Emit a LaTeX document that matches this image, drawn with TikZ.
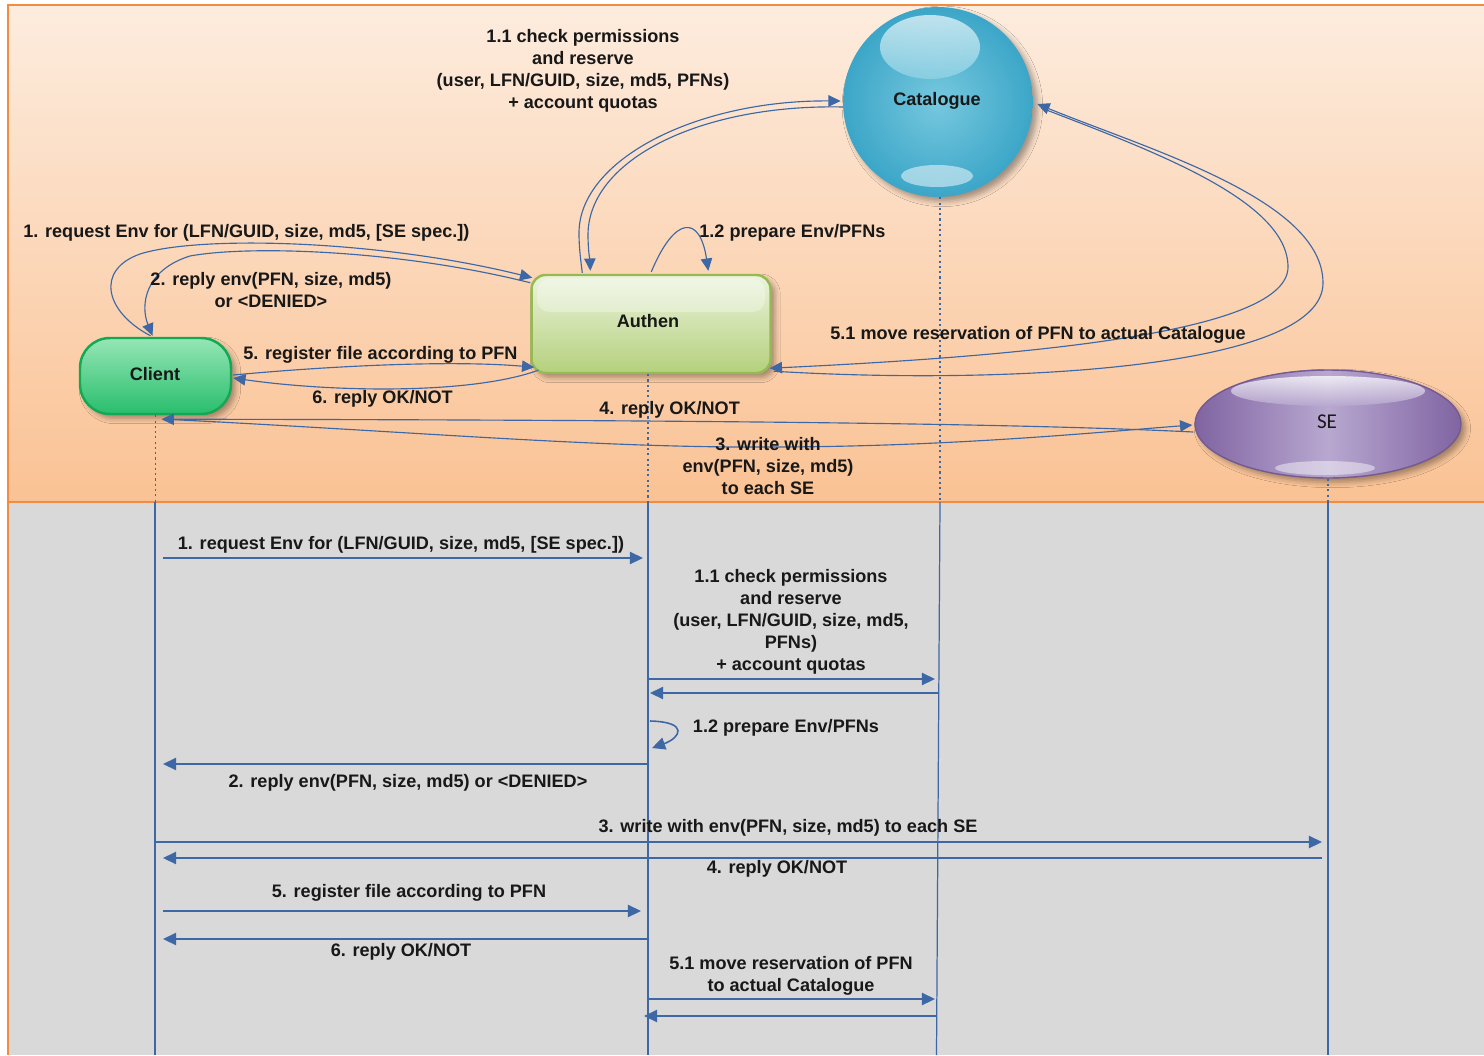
\documentclass[tikz,border=0pt]{standalone}
\usepackage{fontspec}
\setmainfont{Liberation Sans}
\newfontfamily\sefont{Carlito}
\usetikzlibrary{arrows.meta,shapes.geometric,shadows.blur,calc}

\definecolor{peachtop}{RGB}{253,236,222}
\definecolor{peachbot}{RGB}{250,194,148}
\definecolor{frameorange}{RGB}{242,140,64}
\definecolor{panelgray}{RGB}{217,217,217}
\definecolor{flow}{RGB}{62,104,165}
\definecolor{tealedge}{RGB}{60,166,200}
\definecolor{tealmid}{RGB}{118,200,222}
\definecolor{authtop}{RGB}{236,244,222}
\definecolor{authmid}{RGB}{194,219,146}
\definecolor{authbot}{RGB}{180,208,124}
\definecolor{authedge}{RGB}{150,186,82}
\definecolor{clienttop}{RGB}{150,230,182}
\definecolor{clientbot}{RGB}{40,190,108}
\definecolor{clientedge}{RGB}{18,168,84}
\definecolor{seedge}{RGB}{128,100,162}
\definecolor{semid}{RGB}{184,168,208}
\definecolor{ink}{RGB}{24,24,24}

\tikzset{
  lbl/.style={font=\bfseries\fontsize{10.3}{12.5}\selectfont, text=ink, inner sep=0pt, align=center},
  flowline/.style={draw=flow, line width=0.65pt},
  flowarrow/.style={flowline, -{Triangle[length=7pt,width=6.5pt]}},
  msgarrow/.style={draw=flow, line width=0.9pt, -{Triangle[length=7.5pt,width=7pt]}},
  lifedots/.style={draw=flow, line width=0.6pt, dash pattern=on 1.2pt off 1.8pt},
  lifeline/.style={draw=flow, line width=0.7pt},
  softshadow/.style={blur shadow={shadow xshift=2.5pt, shadow yshift=-2.5pt, shadow blur radius=3pt, shadow opacity=35}},
}

\begin{document}
\begin{tikzpicture}[x=0.02cm, y=-0.02cm]
\useasboundingbox (0,0) rectangle (1484,1055);

% panels
\fill[white] (0,0) rectangle (1484,1055);
\shade[top color=peachtop, bottom color=peachbot] (8,5) rectangle (1484,502);
\fill[panelgray] (8,502) rectangle (1484,1055);
\draw[frameorange, line width=1.2pt] (1484,5) -- (8,5) -- (8,1055);
\draw[frameorange, line width=1.2pt] (8,502) -- (1484,502);

% lifeline reference points
\coordinate (lC) at (155,502);
\coordinate (lA) at (648,502);
\coordinate (lK) at (940,502);
\coordinate (lS) at (1328,502);
\coordinate (bottom) at (0,1055);
\coordinate (lKend) at (936.5,1055);

% ---------- actors ----------
\node[circle, minimum size=3.8cm, inner sep=0pt, inner color=tealmid, outer color=tealedge, softshadow] (cat) at (938,102) {};
\shade[top color=white!85!tealmid, bottom color=tealmid!80, opacity=0.75] (930,47) ellipse [x radius=50, y radius=32];
\fill[white, opacity=0.5] (937,176) ellipse [x radius=36, y radius=11];
\node[lbl] (catlbl) at (937,101) {Catalogue};

\node[rectangle, rounded corners=8pt, minimum width=4.78cm, minimum height=1.96cm, draw=authedge, line width=1.4pt, top color=authtop, middle color=authmid, bottom color=authbot, softshadow] (auth) at (651,324) {};
\fill[white, opacity=0.3, rounded corners=7pt] (537,279) rectangle (765,312);
\node[lbl] (authlbl) at (648,321) {Authen};

\node[rectangle, rounded corners=17pt, minimum width=3.02cm, minimum height=1.52cm, draw=clientedge, line width=1.4pt, top color=clienttop, bottom color=clientbot, softshadow] (cli) at (155.5,376) {};
\node[lbl] (clilbl) at (155,374) {Client};

\node[ellipse, minimum width=5.32cm, minimum height=2.16cm, draw=seedge!90!black, line width=0.8pt, left color=seedge, right color=seedge, middle color=semid, softshadow] (se) at (1328,424) {};
\shade[top color=white, bottom color=semid, opacity=0.75] (1328,391) ellipse [x radius=97, y radius=15];
\fill[white, opacity=0.45] (1325,468) ellipse [x radius=50, y radius=7];
\node[font=\sefont\fontsize{12}{12}\selectfont, text=ink, inner sep=0pt] (selbl) at (1327,422) {SE};

% ---------- collaboration view ----------
\draw[lifedots] (cli.south) -- (cli.south |- lC);
\draw[lifedots] (lA |- auth.south) -- (lA);
\draw[lifedots] (lK |- cat.south) -- (lK);
\draw[lifedots] (lS |- se.south) -- (lS);

% 1 / 2 between Client and Authen
\draw[flowarrow] ($(cli.north)+(-5,-1)$) .. controls (105,312) and (95,270) .. (140,254)
   .. controls (200,235) and (380,240) .. ($(auth.north west)+(2,4)$);
\draw[flowarrow] ($(auth.north west)+(0,9)$) .. controls (400,250) and (250,245) .. (190,256)
   .. controls (145,270) and (140,305) .. ($(cli.north)+(-3,-1)$);

% 1.1 between Authen and Catalogue
\draw[flowarrow] ($(auth.north west)+(52,-1)$) .. controls (580,255) and (579,245) .. (579,233)
   .. controls (579,160) and (696,100) .. ($(cat.west)+(-2,-1)$);
\draw[flowarrow] (cat.183) .. controls (700,104) and (588,160) .. (588,235)
   .. controls (588,250) and (590,262) .. ($(auth.north west)+(60,-3)$);

% 1.2 self call
\draw[flowarrow] ($(auth.north west)+(121,-2)$) .. controls (675,215) and (700,215) .. ($(auth.north west)+(178,-3)$);

% 5 / 6 between Client and Authen
\draw[flowarrow] ($(cli.east)+(1,-1)$) .. controls (330,366) and (450,360) .. ($(auth.south west)+(4,-7)$);
\draw[flowarrow] ($(auth.south west)+(8,-4)$) .. controls (470,395) and (330,392) .. ($(cli.east)+(1,2)$);

% 5.1 between Authen and Catalogue
\draw[flowarrow] ($(auth.south east)+(2,-3)$) .. controls (1000,385) and (1323,370) .. (1323,283)
   .. controls (1323,200) and (1150,150) .. ($(cat.east)+(4,2)$);
\draw[flowarrow] ($(cat.east)+(8,6)$) .. controls (1150,150) and (1288,200) .. (1288,267)
   .. controls (1288,330) and (1050,355) .. ($(auth.south east)+(-2,-6)$);

% 3 / 4 between Client and SE
\draw[flowarrow] ($(se.west)+(-1,8)$) .. controls (1050,425) and (800,420) .. ($(cli.south)+(6,4)$);
\draw[flowarrow] ($(cli.south)+(10,4)$) .. controls (420,432) and (600,448) .. (768,447)
   .. controls (950,447) and (1100,432) .. ($(se.west)+(-2,1)$);

% labels of the collaboration view
\node[lbl] (tChk) at (583,71) {1.1 check permissions\\and reserve\\(user, LFN/GUID, size, md5, PFNs)\\+ account quotas};
\node[lbl, anchor=west] (tReq) at (23,233) {1. request Env for (LFN/GUID, size, md5, [SE spec.])};
\node[lbl, anchor=west] (tPrep) at (699,233) {1.2 prepare Env/PFNs};
\node[lbl] (tRep) at (271,290) {2. reply env(PFN, size, md5)\\or <DENIED>};
\node[lbl, anchor=west] (tReg) at (243,355) {5. register file according to PFN};
\node[lbl, anchor=west] (tOk) at (312,399) {6. reply OK/NOT};
\node[lbl, anchor=west] (tSeOk) at (599,410) {4. reply OK/NOT};
\node[lbl] (tWr) at (768,466) {3. write with\\env(PFN, size, md5)\\to each SE};
\node[lbl, anchor=west] (tMove) at (830,335) {5.1 move reservation of PFN to actual Catalogue};

% ---------- sequence view ----------
\draw[lifeline] (lC) -- (lC |- bottom);
\draw[lifeline] (lA) -- (lA |- bottom);
\draw[lifeline] (lK) -- (lKend);
\draw[lifeline] (lS) -- (lS |- bottom);

\coordinate (r1) at (0,558);
\coordinate (r11) at (0,679);
\coordinate (r11b) at (0,693);
\coordinate (r12) at (0,721);
\coordinate (r2) at (0,764);
\coordinate (r3) at (0,842);
\coordinate (r4) at (0,858);
\coordinate (r5) at (0,911);
\coordinate (r6) at (0,939);
\coordinate (r51) at (0,999);
\coordinate (r51b) at (0,1016);

\draw[msgarrow] ($(lC|-r1)+(8,0)$) -- ($(lA|-r1)+(-5,0)$);
\draw[msgarrow] (lA|-r11) -- ($(lK|-r11)+(-5,0)$);
\draw[msgarrow] ($(lK|-r11b)+(-1,0)$) -- ($(lA|-r11b)+(2,0)$);
\draw[msgarrow] ($(lA|-r12)+(2,0)$) .. controls (690,722) and (680,738) .. ($(lA|-r12)+(4,27)$);
\draw[msgarrow] (lA|-r2) -- ($(lC|-r2)+(8,0)$);
\draw[msgarrow] ($(lC|-r3)+(1,0)$) -- ($(lS|-r3)+(-6,0)$);
\draw[msgarrow] ($(lS|-r4)+(-6,0)$) -- ($(lC|-r4)+(8,0)$);
\draw[msgarrow] ($(lC|-r5)+(8,0)$) -- ($(lA|-r5)+(-7,0)$);
\draw[msgarrow] (lA|-r6) -- ($(lC|-r6)+(8,0)$);
\draw[msgarrow] (lA|-r51) -- ($(lK|-r51)+(-5,0)$);
\draw[msgarrow] ($(lK|-r51b)+(-3,0)$) -- ($(lA|-r51b)+(-4,0)$);

\node[lbl] (s1) at (401,545) {1. request Env for (LFN/GUID, size, md5, [SE spec.])};
\node[lbl] (s11) at (791,622) {1.1 check permissions\\and reserve\\(user, LFN/GUID, size, md5,\\PFNs)\\+ account quotas};
\node[lbl] (s12) at (786,728) {1.2 prepare Env/PFNs};
\node[lbl] (s2) at (408,783) {2. reply env(PFN, size, md5) or <DENIED>};
\node[lbl] (s3) at (788,828) {3. write with env(PFN, size, md5) to each SE};
\node[lbl] (s4) at (777,869) {4. reply OK/NOT};
\node[lbl] (s5) at (409,893) {5. register file according to PFN};
\node[lbl] (s6) at (401,952) {6. reply OK/NOT};
\node[lbl] (s51) at (791,976) {5.1 move reservation of PFN\\to actual Catalogue};
\end{tikzpicture}
\end{document}
